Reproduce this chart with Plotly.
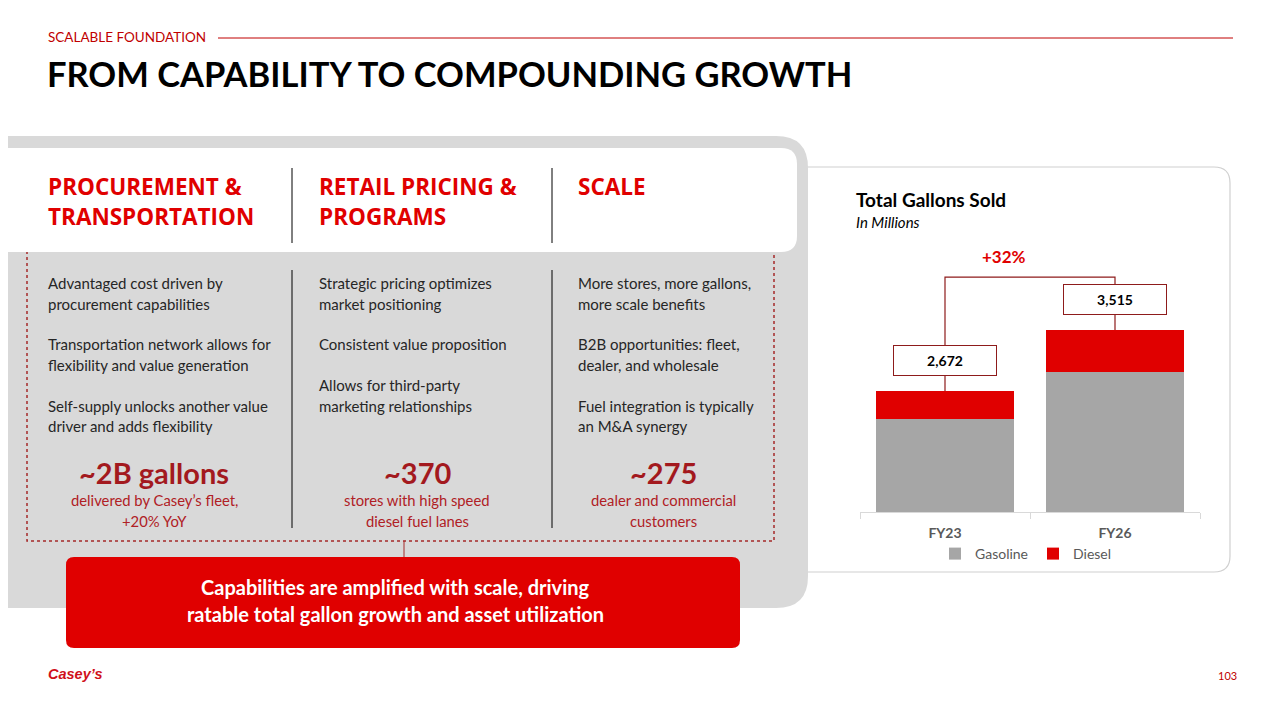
import plotly.graph_objects as go

# the page adds an 8px body margin, so the figure is drawn 8px smaller and
# all slide positions below are given in full-slide pixels then shifted
OFF = 8
W, H = 1280 - OFF, 720 - OFF

# chart data (millions of gallons)
years = ["FY23", "FY26"]
gasoline = [2285, 2935]
diesel = [387, 580]
totals = [2672, 3515]

section_label = "SCALABLE FOUNDATION"
slide_title = "FROM CAPABILITY TO COMPOUNDING GROWTH"
col_headers = [
    ["PROCUREMENT &", "TRANSPORTATION"],
    ["RETAIL PRICING &", "PROGRAMS"],
    ["SCALE"],
]
col_bullets = [
    [["Advantaged cost driven by", "procurement capabilities"],
     ["Transportation network allows for", "flexibility and value generation"],
     ["Self-supply unlocks another value", "driver and adds flexibility"]],
    [["Strategic pricing optimizes", "market positioning"],
     ["Consistent value proposition"],
     ["Allows for third-party", "marketing relationships"]],
    [["More stores, more gallons,", "more scale benefits"],
     ["B2B opportunities: fleet,", "dealer, and wholesale"],
     ["Fuel integration is typically", "an M&A synergy"]],
]
big_numbers = ["~2B gallons", "~370", "~275"]
big_subtexts = [
    ["delivered by Casey\u2019s fleet,", "+20% YoY"],
    ["stores with high speed", "diesel fuel lanes"],
    ["dealer and commercial", "customers"],
]
callout_lines = [
    "Capabilities are amplified with scale, driving",
    "ratable total gallon growth and asset utilization",
]

RED = "#E00000"
DARK_RED = "#A3191E"
GRAY_PANEL = "#D9D9D9"
TEXT = "#262626"
FONT = "Lato"


def px(x):
    return (x - OFF) / W


def py(y):
    return 1 - (y - OFF) / H


def rounded_path(x0, y0, x1, y1, r_left=0, r_right=0):
    # pixel box -> paper path, corners done with quadratic curves
    pts = []
    pts.append(f"M {px(x0 + r_left)},{py(y0)}")
    pts.append(f"L {px(x1 - r_right)},{py(y0)}")
    if r_right:
        pts.append(f"Q {px(x1)},{py(y0)} {px(x1)},{py(y0 + r_right)}")
    pts.append(f"L {px(x1)},{py(y1 - r_right)}")
    if r_right:
        pts.append(f"Q {px(x1)},{py(y1)} {px(x1 - r_right)},{py(y1)}")
    pts.append(f"L {px(x0 + r_left)},{py(y1)}")
    if r_left:
        pts.append(f"Q {px(x0)},{py(y1)} {px(x0)},{py(y1 - r_left)}")
    pts.append(f"L {px(x0)},{py(y0 + r_left)}")
    if r_left:
        pts.append(f"Q {px(x0)},{py(y0)} {px(x0 + r_left)},{py(y0)}")
    pts.append("Z")
    return " ".join(pts)


shapes = []
annotations = []


def add_text(x, y, text, size, color=TEXT, anchor="left", bold=False, italic=False, font=FONT):
    if bold:
        text = f"<b>{text}</b>"
    if italic:
        text = f"<i>{text}</i>"
    # annotation boxes carry a little padding, pull edge-anchored text back
    if anchor == "left":
        x -= 2
    elif anchor == "right":
        x += 2
    annotations.append(dict(
        xref="paper", yref="paper", x=px(x), y=py(y), text=text, showarrow=False,
        xanchor=anchor, yanchor="middle", font=dict(family=font, size=size, color=color),
    ))


def add_line(x0, y0, x1, y1, color, width=1, dash="solid"):
    shapes.append(dict(type="line", xref="paper", yref="paper", x0=px(x0), y0=py(y0),
                       x1=px(x1), y1=py(y1), line=dict(color=color, width=width, dash=dash),
                       layer="below"))


# chart panel (sits behind the gray panel)
shapes.append(dict(type="path", xref="paper", yref="paper",
                   path=rounded_path(760, 167, 1230, 572, 16, 16),
                   fillcolor="white", line=dict(color="#D0D0D0", width=1.2), layer="below"))
# gray panel
shapes.append(dict(type="path", xref="paper", yref="paper",
                   path=rounded_path(0, 136, 808, 608, 0, 32),
                   fillcolor=GRAY_PANEL, line=dict(width=0), layer="below"))
# dotted frame
shapes.append(dict(type="rect", xref="paper", yref="paper", x0=px(27), y0=py(240),
                   x1=px(774), y1=py(541), fillcolor="rgba(0,0,0,0)",
                   line=dict(color="#A52A2A", width=1.5, dash="dot"), layer="below"))
# white header strip
shapes.append(dict(type="path", xref="paper", yref="paper",
                   path=rounded_path(0, 148, 797, 252, 0, 16),
                   fillcolor="white", line=dict(width=0), layer="below"))
# column separators
for sx in [292, 552]:
    add_line(sx, 168, sx, 243, "#000000", 1)
    add_line(sx, 270, sx, 528, "#000000", 1)
# connector down to callout
add_line(404, 541, 404, 558, "#A52A2A", 1)
# red callout box
shapes.append(dict(type="path", xref="paper", yref="paper",
                   path=rounded_path(66, 557, 740, 648, 8, 8),
                   fillcolor=RED, line=dict(width=0), layer="below"))

# header of slide
add_text(48, 37, section_label, 13.5, color="#C00000")
add_line(218, 38, 1233, 38, "#C00000", 1)
add_text(47, 73, slide_title, 34.5, color="#000000", bold=True)

# columns
col_x = [48, 319, 578]
col_center = [154, 417, 663]
for i in range(3):
    for j, line in enumerate(col_headers[i]):
        add_text(col_x[i], 186 + j * 30, line, 22.5, color=RED, bold=True, font="Open Sans")
    y = 283
    for bullet in col_bullets[i]:
        for line in bullet:
            add_text(col_x[i], y, line, 15)
            y += 20.7
        y += 20
    add_text(col_center[i], 473, big_numbers[i], 29, color=DARK_RED, anchor="center", bold=True)
    for j, line in enumerate(big_subtexts[i]):
        add_text(col_center[i], 500 + j * 20.5, line, 14.8, color="#B02025", anchor="center")

for j, line in enumerate(callout_lines):
    add_text(395, 587 + j * 27, line, 20, color="white", anchor="center", bold=True)

# chart title
add_text(856, 199, "Total Gallons Sold", 19, color="#000000", bold=True)
add_text(856, 222, "In Millions", 15, color="#000000", italic=True)

# footer
add_text(48, 674, "Casey\u2019s", 14.5, color="#D0101A", bold=True, italic=True,
         font="Liberation Sans Narrow, Liberation Sans")
add_text(1237, 675, "103", 11, color="#C00000", anchor="right")

# bars
fig = go.Figure()
fig.add_trace(go.Bar(x=years, y=gasoline, name="Gasoline", marker=dict(color="#A6A6A6", line=dict(width=0))))
fig.add_trace(go.Bar(x=years, y=diesel, name="Diesel", marker=dict(color=RED, line=dict(width=0))))

# growth bracket linking the two totals
bracket_y = max(totals) + 730
BRACKET = "#8E1B1B"
fig.add_trace(go.Scatter(
    x=[years[0], years[0], years[1], years[1]],
    y=[totals[0], bracket_y, bracket_y, totals[1]],
    mode="lines", line=dict(color=BRACKET, width=1.2), showlegend=False, hoverinfo="skip",
))
for yr, tot in zip(years, totals):
    annotations.append(dict(
        xref="x", yref="y", x=yr, y=tot, yshift=30, text=f"<b>{tot:,}</b>", showarrow=False,
        bgcolor="white", bordercolor=BRACKET, borderwidth=1, borderpad=6, width=90,
        font=dict(family=FONT, size=14, color="#000000"),
    ))
growth = round((totals[1] / totals[0] - 1) * 100)
annotations.append(dict(
    xref="paper", yref="y", x=px(1028), y=bracket_y, yshift=21, text=f"<b>+{growth}%</b>",
    showarrow=False, font=dict(family=FONT, size=17, color=RED),
))

fig.update_layout(
    width=W, height=H,
    margin=dict(l=0, r=0, t=0, b=0),
    paper_bgcolor="white", plot_bgcolor="rgba(0,0,0,0)",
    barmode="stack", bargap=0.19,
    shapes=shapes, annotations=annotations,
    font=dict(family=FONT),
    xaxis=dict(domain=[px(860), px(1200)], showline=True, linecolor="#D9D9D9", linewidth=1,
               ticks="outside", tickson="boundaries", ticklen=6, tickcolor="#D9D9D9",
               ticklabelstandoff=8,
               tickfont=dict(family=FONT, size=14, color="#595959"),
               tickvals=years, ticktext=[f"<b>{y}</b>" for y in years], showgrid=False),
    yaxis=dict(domain=[py(512), py(237)], range=[1000, 4800], visible=False, showgrid=False),
    legend=dict(orientation="h", traceorder="normal", x=px(1026), xanchor="center",
                y=py(554), yanchor="middle",
                font=dict(family=FONT, size=14, color="#595959"), itemwidth=30,
                bgcolor="rgba(0,0,0,0)"),
    showlegend=True,
)

fig.write_html("out.html")
